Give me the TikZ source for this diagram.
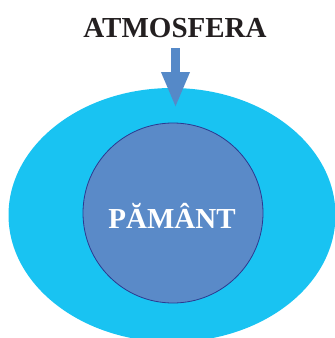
\documentclass[tikz,border=0pt]{standalone}
\usepackage{fontspec}
\setmainfont{Liberation Serif}
\usetikzlibrary{arrows.meta,shapes.geometric}
\definecolor{atmo}{HTML}{19C3F2}
\definecolor{earth}{HTML}{5A8AC8}
\definecolor{earthline}{HTML}{2B3990}
\definecolor{arrowblue}{HTML}{5589C8}
\definecolor{titlecol}{HTML}{231F20}
\tikzset{
  lbl/.style={font=\bfseries\fontsize{29}{32}\selectfont, inner sep=0pt, anchor=base},
  flow/.style={draw=arrowblue, line width=9pt, -{Triangle[width=26pt,length=36pt]}},
}
\begin{document}
\begin{tikzpicture}[x=1pt,y=-1pt]
\useasboundingbox (0,0) rectangle (335,338);
\clip (0,0) rectangle (335,338);
\node[draw=none, fill=atmo, ellipse, minimum width=327pt, minimum height=254pt, inner sep=0pt] (atm) at (172,215) {};
\node[circle, fill=earth, draw=earthline, line width=0.8pt, minimum size=180pt, inner sep=0pt] (earth) at (173,213) {};
\node[lbl, text=white] (earthlbl) at (172,228) {PĂMÂNT};
\node[lbl, text=titlecol] (title) at (175,37) {ATMOSFERA};
\coordinate (as) at (175.5,48);
\coordinate (ae) at (175.5,108);
\draw[flow] (as) -- (ae);
\end{tikzpicture}
\end{document}
